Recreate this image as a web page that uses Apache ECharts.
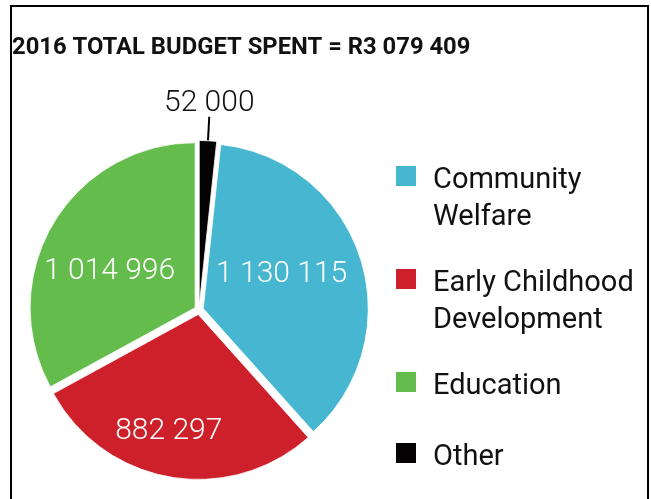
<!DOCTYPE html>
<html>
<head>
    <meta charset='utf-8' />
    <title>2016 Total Budget Spent</title>
    <style>
        body { margin: 0; padding: 0; background: #fff; }
        #chart { width: 651px; height: 499px; }
    </style>
</head>
<body>
    <div id='chart'></div>
    <script src="https://cdn.jsdelivr.net/npm/echarts@6/dist/echarts.min.js"></script>
    <script type="text/javascript">
        // budget split (Rand)
        var categories = ['Community Welfare', 'Early Childhood Development', 'Education', 'Other'];
        var values = [1130115, 882297, 1014996, 52000];
        var valueLabels = ['1 130 115', '882 297', '1 014 996', '52 000'];
        // blank rich lines keep the first text line level with the swatch
        var legendLines = [
            '{g| }\n{t|Community}\n{t|Welfare}',
            '{g| }\n{t|Early Childhood}\n{t|Development}',
            '{g| }\n{t|Education}\n{h| }',
            '{s| }\n{t|Other}\n{e| }'
        ];
        var colors = ['#47b7d1', '#ce202b', '#64bc4c', '#050203'];

        var total = values.reduce(function (a, b) { return a + b; }, 0);
        // Other sits just right of 12 o'clock, the rest follows clockwise
        var startAngle = 90 - 360 * values[3] / total;

        // nudges for the labels, the picture has them off the mid radius
        var labelShift = [[-3, -8], [-15, 33], [-12, 7], [0, -13]];

        var myChart = echarts.init(document.getElementById('chart'));

        myChart.setOption({
            animation: false,
            title: {
                text: '2016 TOTAL BUDGET SPENT = R3 079 409',
                left: 12,
                top: 36,
                padding: 0,
                textStyle: {
                    fontFamily: 'Roboto',
                    fontWeight: 'bold',
                    fontSize: 23.8,
                    color: '#111'
                }
            },
            color: colors,
            legend: {
                orient: 'vertical',
                left: 394,
                top: 134,
                padding: 0,
                itemWidth: 22,
                itemHeight: 22,
                itemGap: 5,
                icon: 'rect',
                selectedMode: false,
                data: categories,
                formatter: function (name) { return legendLines[categories.indexOf(name)]; },
                textStyle: {
                    padding: [0, 0, 0, 11],
                    rich: {
                        t: { fontFamily: 'Roboto', fontSize: 29, lineHeight: 37, color: '#111' },
                        g: { fontSize: 10, lineHeight: 46 },
                        h: { fontSize: 10, lineHeight: 37 },
                        s: { fontSize: 1, lineHeight: 10 },
                        e: { fontSize: 1, lineHeight: 1 }
                    }
                }
            },
            graphic: [{
                type: 'rect',
                shape: { x: 11, y: 6, width: 637, height: 600 },
                style: { fill: null, stroke: '#000', lineWidth: 2 },
                silent: true
            }],
            series: [{
                type: 'pie',
                center: [199, 310],
                radius: 165,
                startAngle: startAngle,
                clockwise: true,
                avoidLabelOverlap: false,
                // every slice pulled out a little, as in the picture
                selectedMode: 'multiple',
                selectedOffset: 4.5,
                itemStyle: { borderColor: '#fff', borderWidth: 0.8 },
                label: {
                    position: 'inside',
                    color: '#fff',
                    fontFamily: 'Roboto',
                    fontWeight: 300,
                    fontSize: 30,
                    formatter: function (p) { return valueLabels[p.dataIndex]; }
                },
                labelLine: { show: false },
                labelLayout: function (p) {
                    var s = labelShift[p.dataIndex];
                    var out = { dx: s[0], dy: s[1] };
                    if (p.dataIndex === 3) out.align = 'center';
                    return out;
                },
                data: categories.map(function (c, i) {
                    var item = { name: c, value: values[i], selected: true };
                    if (i === 3) {
                        item.label = {
                            position: 'outside',
                            color: '#111',
                            distanceToLabelLine: 0
                        };
                        item.labelLine = {
                            show: true,
                            length: 24,
                            length2: 0,
                            lineStyle: { color: '#000', width: 2 }
                        };
                    }
                    return item;
                })
            }]
        });
    </script>
</body>
</html>
